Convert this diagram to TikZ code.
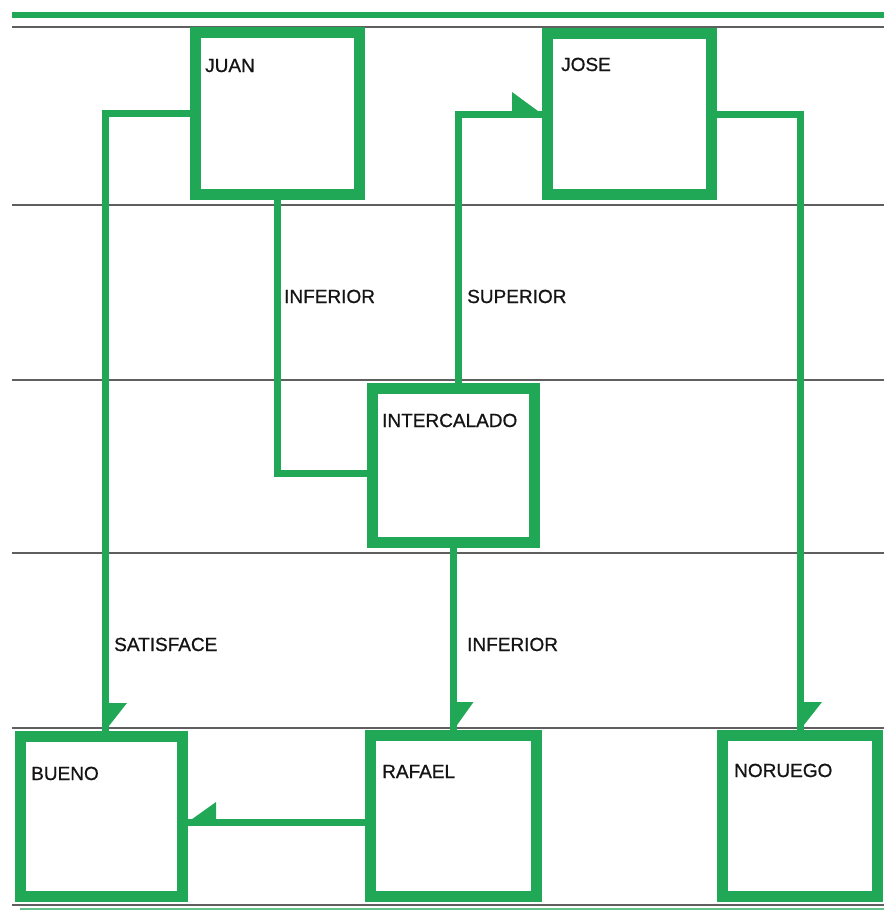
\documentclass[tikz,border=0pt]{standalone}
\usepackage{fontspec}
\setmainfont{Liberation Sans}
\newfontfamily\lblfont{Liberation Sans}[FakeBold=0.8]
\definecolor{grn}{RGB}{32,168,86}
\definecolor{rulegray}{RGB}{95,95,95}
\begin{document}
\begin{tikzpicture}[x=1pt,y=-1pt,
  box/.style={draw=grn, line width=11pt, fill=white, inner sep=0pt, outer sep=5.5pt},
  conn/.style={draw=grn, line width=7pt},
  flag/.style={fill=grn},
  rulel/.style={draw=rulegray, line width=1.8pt},
  lbl/.style={inner sep=0pt, anchor=base west, text=black!92, font=\lblfont\fontsize{19}{22}\selectfont}]
\useasboundingbox (0,0) rectangle (884,910);
\fill[white] (0,0) rectangle (884,910);
% ruled lines
\draw[grn, line width=6pt] (12,15) -- (884,15);
\foreach \yy in {27,205,380,553,728,905}
  \draw[rulel] (12,\yy) -- (884,\yy);
\draw[grn!70, line width=4pt] (20,910) -- (884,910);
% boxes
\node[box, minimum width=164pt, minimum height=162pt] (juan) at (277.5,113.5) {};
\node[box, minimum width=164pt, minimum height=161pt] (jose) at (629.5,114) {};
\node[box, minimum width=162pt, minimum height=154pt] (inter) at (453.5,465.5) {};
\node[box, minimum width=162pt, minimum height=160pt] (bueno) at (101.5,816.5) {};
\node[box, minimum width=166pt, minimum height=161pt] (rafael) at (453.5,816) {};
\node[box, minimum width=155pt, minimum height=161pt] (noruego) at (800,816) {};
% connectors
\draw[conn] (juan.west) -| ([xshift=3.5pt]bueno.north);
\draw[conn] (juan.south) |- ([yshift=-8pt]inter.west);
\draw[conn] ([xshift=4.5pt]inter.north) |- (jose.west);
\draw[conn] (jose.east) -| (noruego.north);
\draw[conn] (inter.south) -- (rafael.north);
\coordinate (rw) at ([yshift=-6pt]rafael.west);
\draw[conn] (rw) -- (rw -| bueno.east);
% half arrowheads
\fill[flag] ([xshift=3.5pt]bueno.north) -- ++(0,-28) -- ++(22,0) -- cycle;
\fill[flag] (jose.west) -- ++(-30,0) -- ++(0,-22) -- cycle;
\fill[flag] (noruego.north) -- ++(0,-28) -- ++(22,0) -- cycle;
\fill[flag] (rafael.north) -- ++(0,-28) -- ++(20,0) -- cycle;
\fill[flag] (rw -| bueno.east) -- ++(28,0) -- ++(0,-20) -- cycle;
% labels
\node[lbl] (tjuan) at (205,72) {JUAN};
\node[lbl] (tjose) at (561,71) {JOSE};
\node[lbl] (tinter) at (382,427) {INTERCALADO};
\node[lbl] (tbueno) at (31,780) {BUENO};
\node[lbl] (trafael) at (382,778) {RAFAEL};
\node[lbl] (tnoruego) at (734,777) {NORUEGO};
\node[lbl] (tinf1) at (284,303) {INFERIOR};
\node[lbl] (tsup) at (467,303) {SUPERIOR};
\node[lbl] (tsat) at (114,651) {SATISFACE};
\node[lbl] (tinf2) at (467,651) {INFERIOR};
\end{tikzpicture}
\end{document}
